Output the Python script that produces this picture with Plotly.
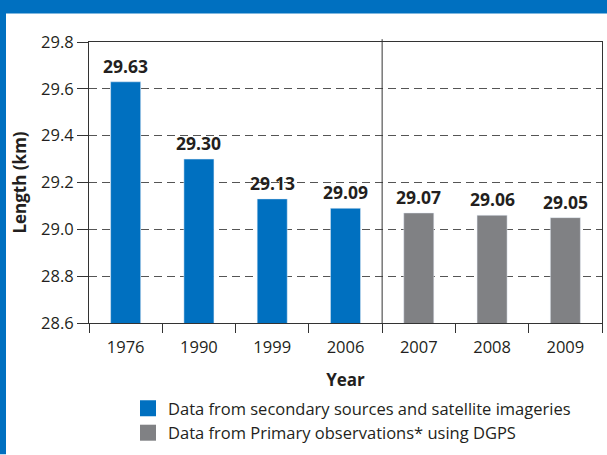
import plotly.graph_objects as go

# Glacier length by year of survey
years_secondary = ["1976", "1990", "1999", "2006"]
length_secondary = [29.63, 29.30, 29.13, 29.09]
years_primary = ["2007", "2008", "2009"]
length_primary = [29.07, 29.06, 29.05]

legend_labels = [
    "Data from secondary sources and satellite imageries",
    "Data from Primary observations* using DGPS",
]

BLUE = "#0070C0"
GREY = "#808184"
INK = "#231F20"
LINE = "#333333"
FONT = "Open Sans"
FS = 16.5

W, H = 607, 455
ML, MR, MT, MB = 89, 5, 42, 128
PW, PH = W - ML - MR, H - MT - MB


def px_x(p):
    return (p - ML) / PW


def px_y(p):
    return (H - MB - p) / PH


years = years_secondary + years_primary
pos_secondary = list(range(len(years_secondary)))
pos_primary = list(range(len(years_secondary), len(years)))
n = len(years)

fig = go.Figure()

fig.add_trace(go.Bar(x=pos_secondary, y=length_secondary, marker_color=BLUE,
                     width=0.41, showlegend=False))
fig.add_trace(go.Bar(x=pos_primary, y=length_primary, marker_color=GREY,
                     width=0.41, showlegend=False))

# legend swatches (no visible points of their own)
for label, color in zip(legend_labels, [BLUE, GREY]):
    fig.add_trace(go.Scatter(x=[None], y=[None], mode="markers", name=label,
                             marker=dict(symbol="square", size=16, color=color)))

# value labels above the bars
for xs, ys in [(pos_secondary, length_secondary), (pos_primary, length_primary)]:
    for x, y in zip(xs, ys):
        fig.add_annotation(x=x, y=y, text=f"<b>{y:.2f}</b>", showarrow=False,
                           yanchor="bottom", yshift=2,
                           font=dict(family=FONT, size=17.5, color=INK))

shapes = [
    # divider between the two data sources
    dict(type="line", xref="x", yref="paper", x0=len(years_secondary) - 0.5,
         x1=len(years_secondary) - 0.5, y0=0, y1=1.01,
         line=dict(color=LINE, width=1)),
    # blue page frame
    dict(type="rect", xref="paper", yref="paper", x0=px_x(-5), x1=px_x(W + 5),
         y0=px_y(13), y1=px_y(-5), fillcolor=BLUE, line_width=0, layer="above"),
    dict(type="rect", xref="paper", yref="paper", x0=px_x(-5), x1=px_x(6),
         y0=px_y(H + 5), y1=px_y(-5), fillcolor=BLUE, line_width=0, layer="above"),
]

fig.update_layout(
    width=W, height=H,
    margin=dict(l=ML, r=MR, t=MT, b=MB, pad=0),
    paper_bgcolor="white", plot_bgcolor="white",
    font=dict(family=FONT, size=FS, color=INK),
    shapes=shapes,
    showlegend=True,
    legend=dict(x=px_x(128), y=px_y(396), xanchor="left", yanchor="top",
                font=dict(family=FONT, size=FS, color=INK),
                itemwidth=30, tracegroupgap=0, bgcolor="rgba(0,0,0,0)"),
)

fig.update_xaxes(
    range=[-0.5, n - 0.5], autorange=False,
    tickmode="array", tickvals=list(range(n)), ticktext=years,
    ticks="outside", ticklen=0, tickcolor="rgba(0,0,0,0)",
    minor=dict(tickmode="array", tickvals=[i - 0.5 for i in range(n + 1)],
               ticks="outside", ticklen=9, tickcolor=LINE, showgrid=False),
    showline=True, linecolor=LINE, linewidth=1, mirror=True,
    tickfont=dict(family=FONT, size=FS, color=INK),
    ticklabelstandoff=9,
    showgrid=False, zeroline=False,
    title=dict(text="<b>Year</b>", font=dict(family=FONT, size=17, color=INK), standoff=17),
)

fig.update_yaxes(
    range=[28.6, 29.8], autorange=False, dtick=0.2, tick0=28.6, tickformat=".1f",
    showline=True, linecolor=LINE, linewidth=1, mirror=True,
    ticks="outside", ticklen=11, tickcolor=LINE,
    tickfont=dict(family=FONT, size=FS, color=INK),
    showgrid=True, gridcolor="#555555", gridwidth=1, griddash="8px,5px",
    zeroline=False,
    title=dict(text="<b>Length (km)</b>", font=dict(family=FONT, size=17, color=INK), standoff=10),
)

fig.write_html("out.html")
